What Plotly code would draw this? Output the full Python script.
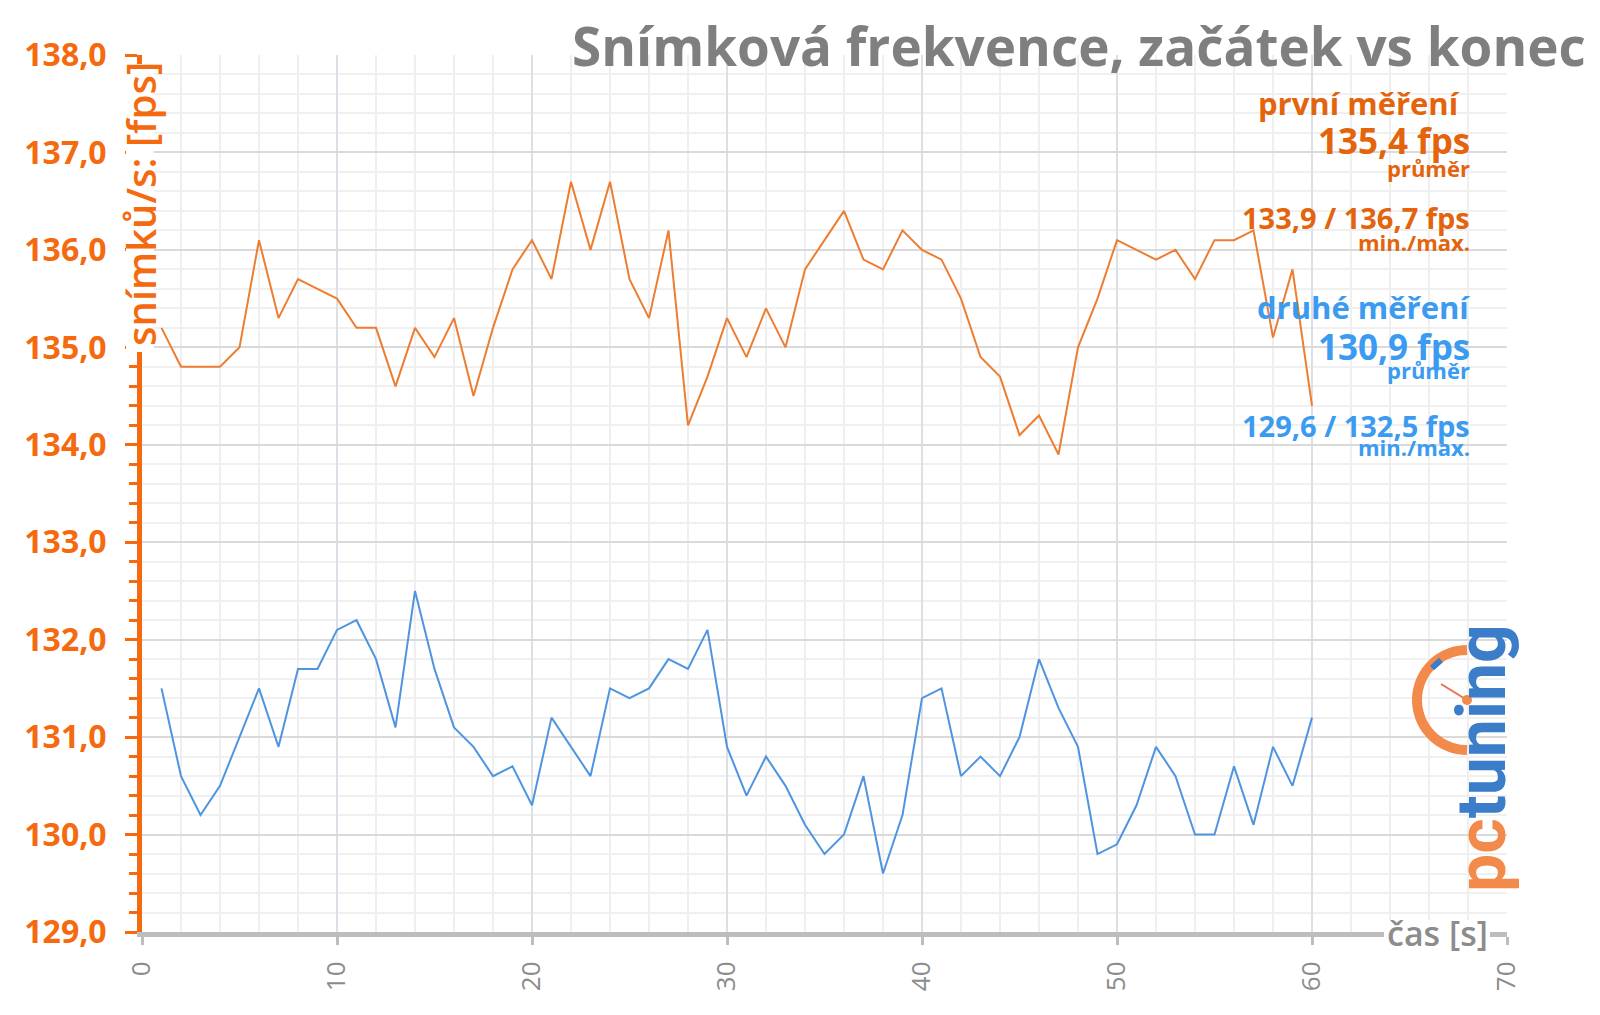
import numpy as np
import plotly.graph_objects as go

# sekundy měření
cas = list(range(1, 61))

prvni_mereni = [
    135.2, 134.8, 134.8, 134.8, 135.0, 136.1, 135.3, 135.7, 135.6, 135.5,
    135.2, 135.2, 134.6, 135.2, 134.9, 135.3, 134.5, 135.2, 135.8, 136.1,
    135.7, 136.7, 136.0, 136.7, 135.7, 135.3, 136.2, 134.2, 134.7, 135.3,
    134.9, 135.4, 135.0, 135.8, 136.1, 136.4, 135.9, 135.8, 136.2, 136.0,
    135.9, 135.5, 134.9, 134.7, 134.1, 134.3, 133.9, 135.0, 135.5, 136.1,
    136.0, 135.9, 136.0, 135.7, 136.1, 136.1, 136.2, 135.1, 135.8, 134.4,
]

druhe_mereni = [
    131.5, 130.6, 130.2, 130.5, 131.0, 131.5, 130.9, 131.7, 131.7, 132.1,
    132.2, 131.8, 131.1, 132.5, 131.7, 131.1, 130.9, 130.6, 130.7, 130.3,
    131.2, 130.9, 130.6, 131.5, 131.4, 131.5, 131.8, 131.7, 132.1, 130.9,
    130.4, 130.8, 130.5, 130.1, 129.8, 130.0, 130.6, 129.6, 130.2, 131.4,
    131.5, 130.6, 130.8, 130.6, 131.0, 131.8, 131.3, 130.9, 129.8, 129.9,
    130.3, 130.9, 130.6, 130.0, 130.0, 130.7, 130.1, 130.9, 130.5, 131.2,
]

souhrn_prvni = ["první měření", "135,4 fps", "průměr", "133,9 / 136,7 fps", "min./max."]
souhrn_druhe = ["druhé měření", "130,9 fps", "průměr", "129,6 / 132,5 fps", "min./max."]

ORANGE_LINE = "#ed7d31"
BLUE_LINE = "#4f94e0"
ORANGE_TEXT = "#e3640c"
BLUE_TEXT = "#3a9bf0"
AXIS_ORANGE = "#f56a0f"
GREY = "#8c8c8c"

W, H = 1600, 1015
L, R, T, B = 142, 93, 55, 83
PW, PH = W - L - R, H - T - B


def px(x):
    return (x - L) / PW


def py(y):
    return (H - B - y) / PH


fig = go.Figure()

fig.add_trace(go.Scatter(x=cas, y=prvni_mereni, mode="lines", name="první měření",
                         line=dict(color=ORANGE_LINE, width=2)))
fig.add_trace(go.Scatter(x=cas, y=druhe_mereni, mode="lines", name="druhé měření",
                         line=dict(color=BLUE_LINE, width=2)))

fig.update_layout(
    width=W, height=H,
    margin=dict(l=L, r=R, t=T, b=B),
    plot_bgcolor="white",
    paper_bgcolor="white",
    showlegend=False,
    separators=", ",
    font=dict(family="Open Sans", color=GREY),
)

fig.update_xaxes(
    range=[0, 70], dtick=10, tick0=0,
    showgrid=True, gridcolor="#dcdfe6", gridwidth=2,
    minor=dict(dtick=2, showgrid=True, gridcolor="#efefef", gridwidth=1.5,
               ticks=""),
    showline=True, linecolor="#bdbdbd", linewidth=5,
    ticks="outside", ticklen=8, tickwidth=3, tickcolor="#bdbdbd",
    tickangle=-90, ticklabelstandoff=6,
    tickfont=dict(family="Open Sans", size=26, color=GREY),
    zeroline=False,
)

fig.update_yaxes(
    range=[129, 138], dtick=1, tick0=129, tickformat=".1f",
    showgrid=True, gridcolor="#dadada", gridwidth=2,
    minor=dict(dtick=0.2, showgrid=True, gridcolor="#f0f0f0", gridwidth=1.5,
               ticks="outside", ticklen=8, tickwidth=3, tickcolor=AXIS_ORANGE),
    showline=True, linecolor=AXIS_ORANGE, linewidth=5,
    ticks="outside", ticklen=12, tickwidth=3, tickcolor=AXIS_ORANGE,
    ticklabelstandoff=12,
    tickfont=dict(family="Open Sans", size=32, color=AXIS_ORANGE, weight=700),
    zeroline=False,
)

# nadpis
fig.add_annotation(
    text="Snímková frekvence, začátek vs konec",
    xref="paper", yref="paper", x=px(1588), y=py(46),
    xanchor="right", yanchor="middle", showarrow=False,
    font=dict(family="Open Sans", size=53, color="#7f7f7f", weight=700),
)

# popisky os (bílý podklad jen přes osu)
fig.add_shape(type="rect", xref="paper", yref="paper", layer="above",
              x0=px(126), x1=px(154), y0=py(64), y1=py(352),
              fillcolor="white", line=dict(width=0))
fig.add_annotation(
    text="snímků/s: [fps]",
    xref="paper", yref="paper", x=px(140), y=py(60),
    xanchor="center", yanchor="top", textangle=-90, showarrow=False,
    font=dict(family="Open Sans", size=40, color=AXIS_ORANGE, weight=600),
)
fig.add_shape(type="rect", xref="paper", yref="paper", layer="above",
              x0=px(1384), x1=px(1490), y0=py(945), y1=py(920),
              fillcolor="white", line=dict(width=0))
fig.add_annotation(
    text="čas [s]",
    xref="paper", yref="paper", x=px(1437), y=py(933),
    xanchor="center", yanchor="middle", showarrow=False,
    font=dict(family="Open Sans", size=34, color=GREY, weight=600),
)

# souhrny vpravo
sizes = [31, 35, 22, 29, 22]
ys_prvni = [103, 140, 168, 218, 242]
ys_druhe = [307, 346, 370, 425, 447]
for texts, ys, col in [(souhrn_prvni, ys_prvni, ORANGE_TEXT), (souhrn_druhe, ys_druhe, BLUE_TEXT)]:
    for i, (t, yy) in enumerate(zip(texts, ys)):
        fig.add_annotation(
            text=t, xref="paper", yref="paper", x=px(1472), y=py(yy),
            xanchor="right", yanchor="middle", showarrow=False,
            xshift=-10 if i == 0 and col == ORANGE_TEXT else 0,
            font=dict(family="Open Sans", size=sizes[i], color=col, weight=700),
        )

# logo pctuning
fig.add_annotation(
    text="<span style='color:#f28a4b'>pc</span><span style='color:#3b7dc8'>tuning</span>",
    xref="paper", yref="paper", x=px(1482), y=py(758),
    xanchor="center", yanchor="middle", textangle=-90, showarrow=False,
    font=dict(family="Roboto", size=68, weight=700),
)
cx, cy, rad = 1467, 700, 50
ang = np.linspace(np.pi / 2, 3 * np.pi / 2, 40)
arc = "M " + " L ".join(f"{px(cx + rad * np.cos(a)):.5f},{py(cy - rad * np.sin(a)):.5f}" for a in ang)
fig.add_shape(type="path", path=arc, xref="paper", yref="paper",
              line=dict(color="#f28a4b", width=10))
fig.add_shape(type="line", xref="paper", yref="paper",
              x0=px(1441), y0=py(684), x1=px(1467), y1=py(700),
              line=dict(color="#ef6f4a", width=2))
fig.add_shape(type="circle", xref="paper", yref="paper",
              x0=px(1462), y0=py(695), x1=px(1472), y1=py(705),
              fillcolor="#f28a4b", line=dict(width=0))
fig.add_shape(type="line", xref="paper", yref="paper",
              x0=px(1432), y0=py(668), x1=px(1441), y1=py(660),
              line=dict(color="#3b7dc8", width=6))

fig.write_html("out.html", config={"displayModeBar": False},
               post_script="document.body.style.margin='0';")
